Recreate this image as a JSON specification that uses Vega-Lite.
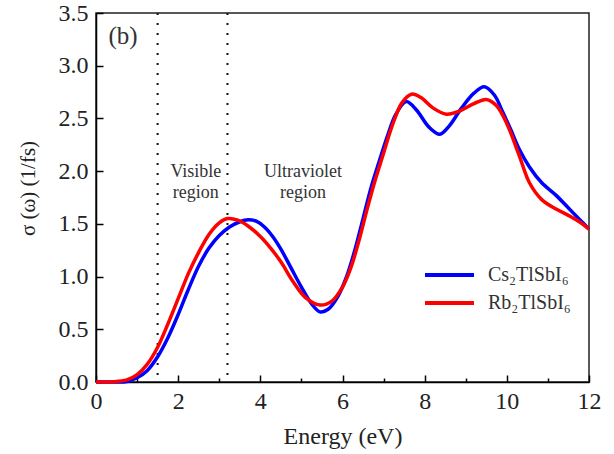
{
  "$schema": "https://vega.github.io/schema/vega-lite/v6.json",
  "autosize": {"type": "none"},
  "width": 493,
  "height": 369,
  "padding": {"left": 96, "top": 13, "right": 25, "bottom": 72},
  "background": "white",
  "config": {
    "view": {"stroke": "#222", "strokeWidth": 1.5},
    "font": "Liberation Serif",
    "axis": {
      "titleFontWeight": "normal",
      "labelColor": "#222",
      "titleColor": "#222",
      "domainColor": "#000",
      "domainWidth": 1.5,
      "tickColor": "#000",
      "tickWidth": 1.5,
      "labelFlush": false,
      "grid": false
    }
  },
  "datasets": {
    "curves": [
      {"s": "Cs₂TlSbI₆", "x": 0, "y": 0},
      {"s": "Cs₂TlSbI₆", "x": 0.5, "y": 0},
      {"s": "Cs₂TlSbI₆", "x": 0.75, "y": 0.005},
      {"s": "Cs₂TlSbI₆", "x": 1.0, "y": 0.04},
      {"s": "Cs₂TlSbI₆", "x": 1.25, "y": 0.11},
      {"s": "Cs₂TlSbI₆", "x": 1.5, "y": 0.24},
      {"s": "Cs₂TlSbI₆", "x": 1.75, "y": 0.42},
      {"s": "Cs₂TlSbI₆", "x": 2.0, "y": 0.64},
      {"s": "Cs₂TlSbI₆", "x": 2.25, "y": 0.88},
      {"s": "Cs₂TlSbI₆", "x": 2.5, "y": 1.1},
      {"s": "Cs₂TlSbI₆", "x": 2.75, "y": 1.27},
      {"s": "Cs₂TlSbI₆", "x": 3.0, "y": 1.39},
      {"s": "Cs₂TlSbI₆", "x": 3.25, "y": 1.47},
      {"s": "Cs₂TlSbI₆", "x": 3.5, "y": 1.52},
      {"s": "Cs₂TlSbI₆", "x": 3.7, "y": 1.54},
      {"s": "Cs₂TlSbI₆", "x": 3.9, "y": 1.525},
      {"s": "Cs₂TlSbI₆", "x": 4.1, "y": 1.47},
      {"s": "Cs₂TlSbI₆", "x": 4.3, "y": 1.38},
      {"s": "Cs₂TlSbI₆", "x": 4.5, "y": 1.26},
      {"s": "Cs₂TlSbI₆", "x": 4.75, "y": 1.08},
      {"s": "Cs₂TlSbI₆", "x": 5.0, "y": 0.9},
      {"s": "Cs₂TlSbI₆", "x": 5.25, "y": 0.74},
      {"s": "Cs₂TlSbI₆", "x": 5.45, "y": 0.665},
      {"s": "Cs₂TlSbI₆", "x": 5.65, "y": 0.69},
      {"s": "Cs₂TlSbI₆", "x": 5.9, "y": 0.82},
      {"s": "Cs₂TlSbI₆", "x": 6.1, "y": 1.0},
      {"s": "Cs₂TlSbI₆", "x": 6.3, "y": 1.25},
      {"s": "Cs₂TlSbI₆", "x": 6.5, "y": 1.55},
      {"s": "Cs₂TlSbI₆", "x": 6.7, "y": 1.85},
      {"s": "Cs₂TlSbI₆", "x": 6.9, "y": 2.1},
      {"s": "Cs₂TlSbI₆", "x": 7.1, "y": 2.34},
      {"s": "Cs₂TlSbI₆", "x": 7.3, "y": 2.54},
      {"s": "Cs₂TlSbI₆", "x": 7.55, "y": 2.66},
      {"s": "Cs₂TlSbI₆", "x": 7.8, "y": 2.58},
      {"s": "Cs₂TlSbI₆", "x": 8.1, "y": 2.42},
      {"s": "Cs₂TlSbI₆", "x": 8.37, "y": 2.35},
      {"s": "Cs₂TlSbI₆", "x": 8.6, "y": 2.43},
      {"s": "Cs₂TlSbI₆", "x": 8.9, "y": 2.6},
      {"s": "Cs₂TlSbI₆", "x": 9.2, "y": 2.74},
      {"s": "Cs₂TlSbI₆", "x": 9.45, "y": 2.8},
      {"s": "Cs₂TlSbI₆", "x": 9.7, "y": 2.72},
      {"s": "Cs₂TlSbI₆", "x": 9.9, "y": 2.56},
      {"s": "Cs₂TlSbI₆", "x": 10.1, "y": 2.39},
      {"s": "Cs₂TlSbI₆", "x": 10.3, "y": 2.21},
      {"s": "Cs₂TlSbI₆", "x": 10.55, "y": 2.04},
      {"s": "Cs₂TlSbI₆", "x": 10.85, "y": 1.89},
      {"s": "Cs₂TlSbI₆", "x": 11.2, "y": 1.77},
      {"s": "Cs₂TlSbI₆", "x": 11.5, "y": 1.65},
      {"s": "Cs₂TlSbI₆", "x": 11.8, "y": 1.53},
      {"s": "Cs₂TlSbI₆", "x": 12, "y": 1.45},
      {"s": "Rb₂TlSbI₆", "x": 0, "y": 0},
      {"s": "Rb₂TlSbI₆", "x": 0.4, "y": 0.002},
      {"s": "Rb₂TlSbI₆", "x": 0.75, "y": 0.02},
      {"s": "Rb₂TlSbI₆", "x": 1.0, "y": 0.07},
      {"s": "Rb₂TlSbI₆", "x": 1.25, "y": 0.17},
      {"s": "Rb₂TlSbI₆", "x": 1.5, "y": 0.33},
      {"s": "Rb₂TlSbI₆", "x": 1.75, "y": 0.55},
      {"s": "Rb₂TlSbI₆", "x": 2.0, "y": 0.79},
      {"s": "Rb₂TlSbI₆", "x": 2.25, "y": 1.03},
      {"s": "Rb₂TlSbI₆", "x": 2.5, "y": 1.23},
      {"s": "Rb₂TlSbI₆", "x": 2.75, "y": 1.4},
      {"s": "Rb₂TlSbI₆", "x": 3.0, "y": 1.51},
      {"s": "Rb₂TlSbI₆", "x": 3.2, "y": 1.55},
      {"s": "Rb₂TlSbI₆", "x": 3.45, "y": 1.535},
      {"s": "Rb₂TlSbI₆", "x": 3.7, "y": 1.48},
      {"s": "Rb₂TlSbI₆", "x": 4.0, "y": 1.38},
      {"s": "Rb₂TlSbI₆", "x": 4.25, "y": 1.27},
      {"s": "Rb₂TlSbI₆", "x": 4.5, "y": 1.14},
      {"s": "Rb₂TlSbI₆", "x": 4.8, "y": 0.95},
      {"s": "Rb₂TlSbI₆", "x": 5.1, "y": 0.8},
      {"s": "Rb₂TlSbI₆", "x": 5.45, "y": 0.73},
      {"s": "Rb₂TlSbI₆", "x": 5.75, "y": 0.77},
      {"s": "Rb₂TlSbI₆", "x": 6.0, "y": 0.9},
      {"s": "Rb₂TlSbI₆", "x": 6.2, "y": 1.08},
      {"s": "Rb₂TlSbI₆", "x": 6.4, "y": 1.34},
      {"s": "Rb₂TlSbI₆", "x": 6.6, "y": 1.64},
      {"s": "Rb₂TlSbI₆", "x": 6.8, "y": 1.92},
      {"s": "Rb₂TlSbI₆", "x": 7.0, "y": 2.17},
      {"s": "Rb₂TlSbI₆", "x": 7.2, "y": 2.42},
      {"s": "Rb₂TlSbI₆", "x": 7.45, "y": 2.65},
      {"s": "Rb₂TlSbI₆", "x": 7.68, "y": 2.73},
      {"s": "Rb₂TlSbI₆", "x": 7.9, "y": 2.7},
      {"s": "Rb₂TlSbI₆", "x": 8.2, "y": 2.6},
      {"s": "Rb₂TlSbI₆", "x": 8.53, "y": 2.54},
      {"s": "Rb₂TlSbI₆", "x": 8.85, "y": 2.57},
      {"s": "Rb₂TlSbI₆", "x": 9.2, "y": 2.64},
      {"s": "Rb₂TlSbI₆", "x": 9.5, "y": 2.68},
      {"s": "Rb₂TlSbI₆", "x": 9.75, "y": 2.62},
      {"s": "Rb₂TlSbI₆", "x": 10.0, "y": 2.45},
      {"s": "Rb₂TlSbI₆", "x": 10.3, "y": 2.15},
      {"s": "Rb₂TlSbI₆", "x": 10.55, "y": 1.89},
      {"s": "Rb₂TlSbI₆", "x": 10.85, "y": 1.73},
      {"s": "Rb₂TlSbI₆", "x": 11.2, "y": 1.64},
      {"s": "Rb₂TlSbI₆", "x": 11.55, "y": 1.57},
      {"s": "Rb₂TlSbI₆", "x": 11.8, "y": 1.51},
      {"s": "Rb₂TlSbI₆", "x": 12, "y": 1.45}
    ],
    "dividers": [{"x": 1.5}, {"x": 3.2}],
    "notes": [
      {"x": 0.66, "y": 3.28, "t": "(b)", "k": "b"},
      {"x": 2.43, "y": 1.99, "t": "Visible", "k": "r"},
      {"x": 2.43, "y": 1.79, "t": "region", "k": "r"},
      {"x": 5.04, "y": 1.99, "t": "Ultraviolet", "k": "r"},
      {"x": 5.04, "y": 1.79, "t": "region", "k": "r"}
    ]
  },
  "layer": [
    {
      "data": {"name": "dividers"},
      "mark": {"type": "rule", "color": "#111", "strokeWidth": 2, "strokeDash": [2, 8]},
      "encoding": {
        "x": {"field": "x", "type": "quantitative", "scale": {"domain": [0, 12]}}
      }
    },
    {
      "data": {"name": "curves"},
      "mark": {"type": "line", "strokeWidth": 3.5, "interpolate": "catmull-rom"},
      "encoding": {
        "x": {
          "field": "x", "type": "quantitative",
          "scale": {"domain": [0, 12], "nice": false},
          "axis": {
            "title": "Energy (eV)",
            "labelFont": "Liberation Serif",
            "titleFont": "Liberation Serif",
            "labelFontSize": 24,
            "titleFontSize": 24,
            "values": [0, 1, 2, 3, 4, 5, 6, 7, 8, 9, 10, 11, 12],
            "labelExpr": "datum.value % 2 == 0 ? datum.label : ''",
            "tickSize": {"condition": {"test": "datum.value % 2 != 0", "value": -4}, "value": -7},
            "labelPadding": 14,
            "titlePadding": 11
          }
        },
        "y": {
          "field": "y", "type": "quantitative",
          "scale": {"domain": [0, 3.5], "nice": false},
          "axis": {
            "title": "σ (ω) (1/fs)",
            "labelFont": "Liberation Serif",
            "titleFont": "Liberation Serif",
            "labelFontSize": 24,
            "titleFontSize": 21,
            "titleX": -68,
            "titleY": 175,
            "titleAlign": "center",
            "titleBaseline": "middle",
            "titleAngle": -90,
            "values": [0, 0.25, 0.5, 0.75, 1, 1.25, 1.5, 1.75, 2, 2.25, 2.5, 2.75, 3, 3.25, 3.5],
            "format": ".1f",
            "labelExpr": "round(datum.value * 4) % 2 == 0 ? datum.label : ''",
            "tickSize": {"condition": {"test": "round(datum.value * 4) % 2 == 1", "value": -4}, "value": -7},
            "labelPadding": 15
          }
        },
        "color": {
          "field": "s", "type": "nominal",
          "scale": {"domain": ["Cs₂TlSbI₆", "Rb₂TlSbI₆"], "range": ["#0000FF", "#FF0000"]},
          "legend": {
            "title": null,
            "orient": "none",
            "legendX": 327,
            "legendY": 251,
            "padding": 0,
            "symbolType": "stroke",
            "symbolSize": 2400,
            "symbolStrokeWidth": 4,
            "clipHeight": 22,
            "labelFont": "Liberation Serif",
            "labelFontSize": 20,
            "labelColor": "#333",
            "labelOffset": 12,
            "rowPadding": 6
          }
        }
      }
    },
    {
      "data": {"name": "notes"},
      "mark": {"type": "text", "font": "Liberation Serif", "color": "#333", "align": "center", "baseline": "middle"},
      "encoding": {
        "x": {"field": "x", "type": "quantitative"},
        "y": {"field": "y", "type": "quantitative"},
        "text": {"field": "t", "type": "nominal"},
        "size": {"field": "k", "type": "nominal", "scale": {"domain": ["b", "r"], "range": [25, 18]}, "legend": null}
      }
    }
  ]
}
